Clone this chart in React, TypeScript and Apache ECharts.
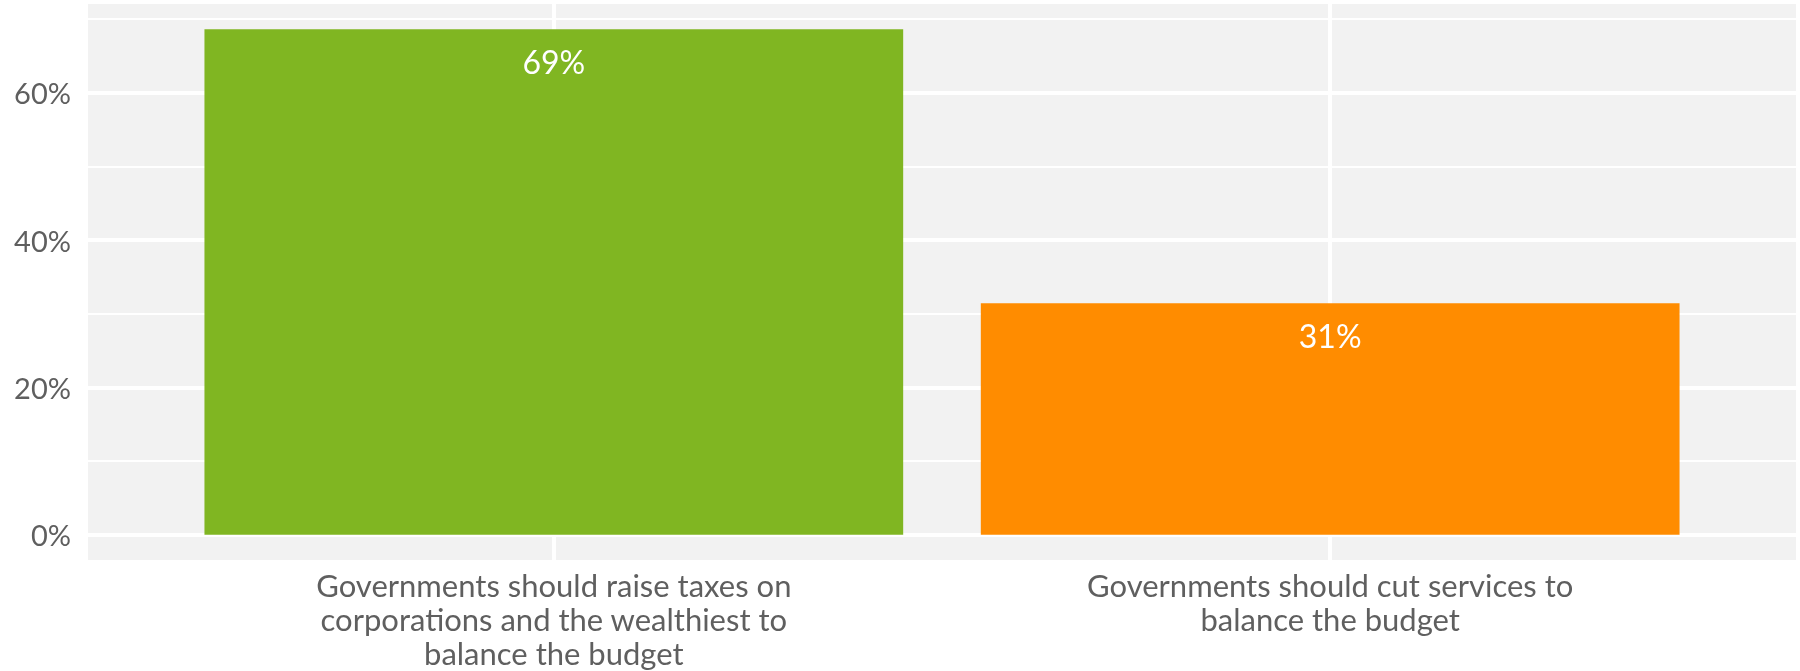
import React, { useEffect, useRef } from "react";
import * as echarts from "echarts";

const categories = [
  "Governments should raise taxes on\ncorporations and the wealthiest to\nbalance the budget",
  "Governments should cut services to\nbalance the budget",
];
const positions = [1, 2];
const values = [68.6, 31.4];
const colors = ["#80b622", "#ff8c00"];
const yTickLabels = ["0%", "20%", "40%", "60%"];

export default function App() {
  const ref = useRef<HTMLDivElement>(null);
  useEffect(() => {
    const chart = echarts.init(ref.current!, null, { renderer: "svg" });
    const maxV = Math.max(...values);
    const pad = maxV * 0.05;
    chart.setOption({
      animation: false,
      textStyle: { fontFamily: "Lato" },
      grid: {
        left: 88,
        right: 4,
        top: 4,
        bottom: 111,
        show: true,
        backgroundColor: "#f2f2f2",
        borderWidth: 0,
        containLabel: false,
        outerBoundsMode: "none",
      },
      xAxis: {
        type: "value",
        min: 0.4,
        max: 2.6,
        minInterval: 1,
        maxInterval: 1,
        axisLine: { show: false },
        axisTick: { show: false },
        splitLine: {
          show: true,
          showMinLine: false,
          showMaxLine: false,
          lineStyle: { color: "#ffffff", width: 4 },
        },
        axisLabel: {
          show: true,
          showMinLabel: false,
          showMaxLabel: false,
          margin: 8,
          color: "#5f5f5f",
          fontSize: 31,
          lineHeight: 34,
          fontFamily: "Lato",
          align: "center",
          formatter: (v: number) => {
            const i = positions.indexOf(Math.round(v * 1000) / 1000);
            return i >= 0 ? categories[i] : "";
          },
        },
      },
      yAxis: {
        type: "value",
        min: -pad,
        max: maxV + pad,
        minInterval: 20,
        maxInterval: 20,
        axisLine: { show: false },
        axisTick: { show: false },
        minorTick: { show: false, splitNumber: 2 },
        splitLine: {
          show: true,
          showMinLine: false,
          showMaxLine: false,
          lineStyle: { color: "#ffffff", width: 4 },
        },
        minorSplitLine: {
          show: true,
          lineStyle: { color: "#ffffff", width: 2 },
        },
        axisLabel: {
          show: true,
          showMinLabel: false,
          showMaxLabel: false,
          margin: 17,
          color: "#5f5f5f",
          fontSize: 29,
          fontFamily: "Lato",
          formatter: (v: number) => {
            const r = Math.round(v);
            const s = `${r}%`;
            return Math.abs(v - r) < 1e-6 && yTickLabels.includes(s) ? s : "";
          },
        },
      },
      series: [
        {
          type: "bar",
          barWidth: "90%",
          data: positions.map((p, i) => ({
            value: [p, values[i]],
            itemStyle: { color: colors[i] },
          })),
          label: {
            show: true,
            position: "insideTop",
            distance: 16,
            color: "#ffffff",
            fontSize: 32,
            fontFamily: "Lato",
            formatter: (p: any) => `${Math.round(p.value[1])}%`,
          },
        },
      ],
    });
    return () => chart.dispose();
  }, []);
  return (
    <div
      ref={ref}
      style={{ position: "fixed", left: 0, top: 0, width: 1800, height: 671 }}
    />
  );
}
